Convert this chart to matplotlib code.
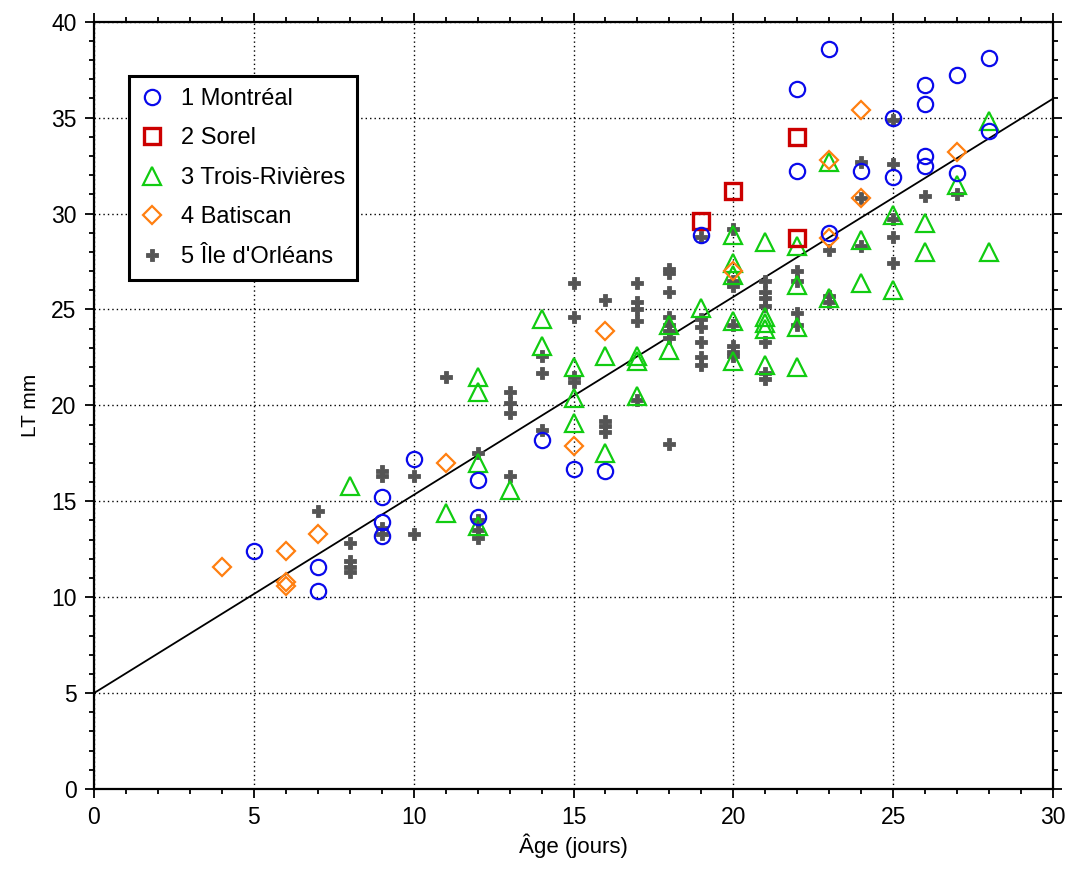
import matplotlib
matplotlib.use('Agg')
import matplotlib.pyplot as plt
from matplotlib.ticker import MultipleLocator

# ---------------- data ----------------
# 1 Montreal
mtl_age = [5, 7, 7, 9, 9, 9, 10, 12, 12, 14, 15, 16, 19, 22, 22, 23, 23,
           24, 25, 25, 26, 26, 26, 26, 27, 27, 28, 28]
mtl_lt = [12.4, 11.6, 10.3, 15.2, 13.9, 13.2, 17.2, 16.1, 14.2, 18.2, 16.7,
          16.6, 28.9, 36.5, 32.2, 38.6, 29.0, 32.2, 35.0, 31.9, 36.7, 35.7,
          33.0, 32.5, 37.2, 32.1, 38.1, 34.3]
# 2 Sorel
sor_age = [19, 20, 22, 22]
sor_lt = [29.6, 31.2, 34.0, 28.7]
# 3 Trois-Rivieres
tr_age = [8, 11, 12, 12, 12, 12, 13, 14, 14, 15, 15, 15, 16, 16, 17, 17, 17,
          18, 18, 19, 20, 20, 20, 20, 20, 21, 21, 21, 21, 21, 22, 22, 22, 22,
          23, 23, 24, 24, 25, 25, 26, 26, 27, 28, 28]
tr_lt = [15.8, 14.4, 21.5, 20.7, 17.0, 13.7, 15.6, 24.5, 23.1, 22.0, 20.4,
         19.1, 22.6, 17.5, 22.6, 22.3, 20.5, 24.2, 22.9, 25.1, 28.9, 27.4,
         26.8, 24.4, 22.3, 28.5, 24.6, 24.3, 24.0, 22.1, 28.3, 26.3, 24.1,
         22.0, 32.7, 25.6, 28.6, 26.4, 29.9, 26.0, 29.5, 28.0, 31.5, 34.8, 28.0]
# 4 Batiscan
bat_age = [4, 6, 6, 6, 7, 11, 15, 16, 20, 23, 23, 24, 24, 27]
bat_lt = [11.6, 12.4, 10.8, 10.6, 13.3, 17.0, 17.9, 23.9, 27.0, 32.8, 28.7,
          35.4, 30.8, 33.2]
# 5 Ile d'Orleans
ile_age = [7, 8, 8, 8, 8, 9, 9, 9, 9, 10, 10, 11, 12, 12, 12, 12,
           13, 13, 13, 13, 14, 14, 14, 15, 15, 15, 15, 16, 16, 16, 16,
           17, 17, 17, 17, 17, 18, 18, 18, 18, 18, 18, 18, 18,
           19, 19, 19, 19, 19, 19, 20, 20, 20, 20, 20, 20, 20,
           21, 21, 21, 21, 21, 21, 21, 22, 22, 22, 22, 23, 23, 23,
           24, 24, 24, 25, 25, 25, 25, 25, 26, 27]
ile_lt = [14.5, 12.8, 11.9, 11.6, 11.3, 16.6, 16.3, 13.6, 13.3, 16.3, 13.3,
          21.5, 17.5, 14.0, 13.5, 13.1,
          20.7, 20.1, 19.6, 16.3, 22.6, 21.7, 18.7, 26.4, 24.6, 21.5, 21.2,
          25.5, 19.2, 18.9, 18.6,
          26.4, 25.4, 25.0, 24.4, 20.3, 27.1, 26.9, 25.9, 24.6, 24.2, 23.9,
          23.5, 18.0,
          28.8, 24.5, 24.1, 23.3, 22.5, 22.1, 29.2, 26.5, 26.2, 24.2, 23.1,
          22.8, 22.6,
          26.5, 25.9, 25.6, 25.2, 23.3, 21.7, 21.4, 27.0, 26.5, 24.8, 24.2,
          28.1, 25.7, 25.4,
          32.7, 30.8, 28.3, 34.9, 32.6, 29.7, 28.8, 27.4, 30.9, 31.0]

# regression line
line_age = [0, 30]
line_intercept = 5.0
line_slope = 1.033

labels = ['1 Montréal', '2 Sorel', '3 Trois-Rivières', '4 Batiscan',
          "5 Île d'Orléans"]

plt.rcParams['font.family'] = ['Liberation Sans', 'DejaVu Sans']

fig = plt.figure(figsize=(10.73, 8.73), dpi=100)
ax = fig.add_axes([0.0876, 0.0962, 0.8938, 0.8789])

# regression line
ax.plot(line_age, [line_intercept + line_slope * a for a in line_age],
        color='black', lw=1.3, zorder=2)

# series, bottom to top
h5, = ax.plot(ile_age, ile_lt, ls='none', marker='P', ms=8.6,
              color='#555555', mec='#555555', mew=0.6, zorder=3)
h3, = ax.plot(tr_age, tr_lt, ls='none', marker='^', ms=13, mfc='none',
              mec='#11cc11', mew=1.6, zorder=4)
h4, = ax.plot(bat_age, bat_lt, ls='none', marker='D', ms=8.8, mfc='none',
              mec='#ff7f10', mew=1.6, zorder=5)
h2, = ax.plot(sor_age, sor_lt, ls='none', marker='s', ms=11.5, mfc='none',
              mec='#cc0000', mew=2.4, zorder=6)
h1, = ax.plot(mtl_age, mtl_lt, ls='none', marker='o', ms=11, mfc='none',
              mec='#0a0aeb', mew=1.6, zorder=7)

ax.set_xlim(0, 30)
ax.set_ylim(0, 40)
ax.xaxis.set_major_locator(MultipleLocator(5))
ax.xaxis.set_minor_locator(MultipleLocator(1))
ax.yaxis.set_major_locator(MultipleLocator(5))
ax.yaxis.set_minor_locator(MultipleLocator(1))
ax.tick_params(which='both', direction='out', top=True, right=True,
               width=1.3, labelsize=16.5)
ax.tick_params(which='major', length=6.5, pad=6)
ax.tick_params(which='minor', length=3.5)
for sp in ax.spines.values():
     sp.set_linewidth(1.6)

ax.grid(True, which='major', color='black', lw=1.0, ls=(0, (1, 2.2)))
ax.set_axisbelow(True)

ax.set_xlabel('Âge (jours)', fontsize=16, labelpad=3)
ax.set_ylabel('LT mm', fontsize=15, labelpad=8)

leg = ax.legend([h1, h2, h3, h4, h5], labels, loc='upper left',
                bbox_to_anchor=(0.037, 0.929), fontsize=17, frameon=True,
                fancybox=False, edgecolor='black', framealpha=1,
                handlelength=0.9, handletextpad=0.8, labelspacing=0.74,
                borderpad=0.5, borderaxespad=0)
leg.get_frame().set_linewidth(2.2)
leg.set_zorder(10)

fig.savefig('out.png', dpi=100)
